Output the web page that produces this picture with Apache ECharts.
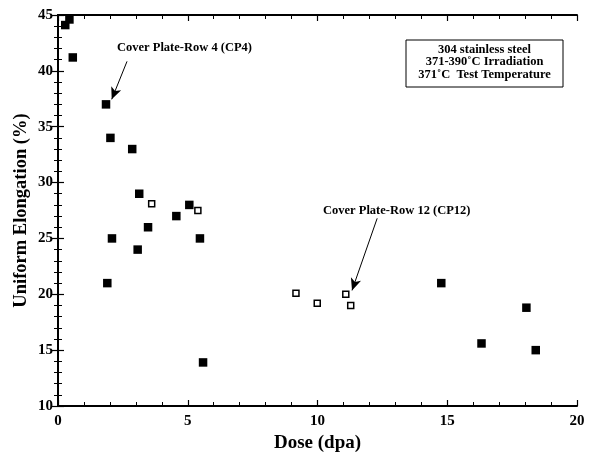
<!DOCTYPE html>
<html>
<head>
<meta charset="utf-8">
<script src="https://cdn.jsdelivr.net/npm/echarts@6/dist/echarts.min.js"></script>
<style>
  html, body { margin: 0; padding: 0; background: #fff; }
  #chart { width: 599px; height: 456px; }
</style>
</head>
<body>
<div id="chart"></div>
<script>
// CP4 specimens (filled squares)
const cp4Dose = [0.28, 0.44, 0.57, 1.85, 2.02, 2.86, 3.13, 4.56, 5.06, 3.47, 2.08, 3.07, 1.90, 5.47, 5.59, 14.77, 16.32, 18.05, 18.41];
const cp4Elong = [44.1, 44.6, 41.2, 37.0, 34.0, 33.0, 29.0, 27.0, 28.0, 26.0, 25.0, 24.0, 21.0, 25.0, 13.9, 21.0, 15.6, 18.8, 15.0];
// CP12 specimens (open squares)
const cp12Dose = [3.61, 5.39, 9.17, 9.99, 11.09, 11.28];
const cp12Elong = [28.1, 27.5, 20.1, 19.2, 20.0, 19.0];
// arrows [from, to] in data units
const arrowCP4 = [[2.66, 40.85], [2.07, 37.45]];
const arrowCP12 = [[12.3, 26.8], [11.33, 20.35]];
const legendLines = ['304 stainless steel', '371-390˚C Irradiation', '371˚C  Test Temperature'];

const serif = '"Liberation Serif", "Times New Roman", serif';

function pairs(xs, ys) {
  return xs.map((x, i) => [x, ys[i]]);
}

const chart = echarts.init(document.getElementById('chart'));

const tickCommon = {
  axisLine: { lineStyle: { color: '#000', width: 2 } },
  axisTick: { show: true, inside: true, length: 6, lineStyle: { color: '#000', width: 1.2 } },
  minorTick: { show: true, splitNumber: 5, length: 4, lineStyle: { color: '#000', width: 1 } },
  splitLine: { show: false },
  minorSplitLine: { show: false }
};

const labelStyle = { color: '#000', fontFamily: serif, fontWeight: 'bold', fontSize: 15 };

const option = {
  animation: false,
  grid: { left: 58, right: 22, top: 15, bottom: 50, containLabel: false, outerBoundsMode: 'none' },
  xAxis: [
    Object.assign({
      type: 'value', min: 0, max: 20, interval: 5, position: 'bottom',
      name: 'Dose (dpa)', nameLocation: 'middle', nameGap: 26,
      nameTextStyle: { color: '#000', fontFamily: serif, fontWeight: 'bold', fontSize: 19 },
      axisLabel: Object.assign({ margin: 8 }, labelStyle)
    }, tickCommon),
    Object.assign({
      type: 'value', min: 0, max: 20, interval: 5, position: 'top',
      axisLabel: { show: false }
    }, tickCommon)
  ],
  yAxis: [
    Object.assign({
      type: 'value', min: 10, max: 45, interval: 5, position: 'left',
      name: 'Uniform Elongation (%)', nameLocation: 'middle', nameGap: 27,
      nameMoveOverlap: false,
      nameTextStyle: { color: '#000', fontFamily: serif, fontWeight: 'bold', fontSize: 18.5 },
      axisLabel: Object.assign({ margin: 5 }, labelStyle)
    }, tickCommon),
    Object.assign({
      type: 'value', min: 10, max: 45, interval: 5, position: 'right',
      axisLabel: { show: false }
    }, tickCommon)
  ],
  series: [
    {
      name: 'CP4',
      type: 'scatter',
      symbol: 'rect',
      symbolSize: 8.5,
      itemStyle: { color: '#000', opacity: 1 },
      data: pairs(cp4Dose, cp4Elong),
      markLine: {
        silent: true,
        symbol: ['none', 'arrow'],
        symbolSize: [8, 12],
        lineStyle: { color: '#000', width: 1, type: 'solid', opacity: 1 },
        label: { show: false },
        data: [
          [{ coord: arrowCP4[0] }, { coord: arrowCP4[1] }],
          [{ coord: arrowCP12[0] }, { coord: arrowCP12[1] }]
        ]
      }
    },
    {
      name: 'CP12',
      type: 'scatter',
      symbol: 'rect',
      symbolSize: 6,
      itemStyle: { color: '#fff', borderColor: '#000', borderWidth: 1.5, opacity: 1 },
      data: pairs(cp12Dose, cp12Elong)
    }
  ],
  graphic: [
    {
      type: 'text', left: 117, top: 41,
      style: { text: 'Cover Plate-Row 4 (CP4)', fill: '#000', font: 'bold 12.5px ' + serif }
    },
    {
      type: 'text', left: 323, top: 204,
      style: { text: 'Cover Plate-Row 12 (CP12)', fill: '#000', font: 'bold 12.5px ' + serif }
    },
    {
      type: 'rect', shape: { x: 406, y: 40, width: 157, height: 47 },
      style: { fill: '#fff', stroke: '#000', lineWidth: 1 }
    },
    {
      type: 'text', x: 484.5, y: 43,
      style: {
        text: legendLines.join('\n'), fill: '#000', font: 'bold 12.5px ' + serif,
        align: 'center', lineHeight: 12.8
      }
    }
  ]
};

chart.setOption(option);
</script>
</body>
</html>
